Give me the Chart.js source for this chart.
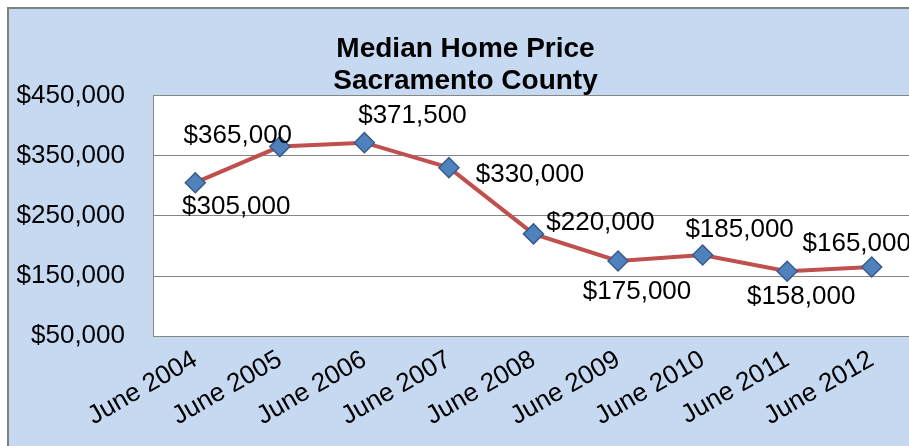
<!DOCTYPE html>
<html><head><meta charset="utf-8">
<script src="https://cdn.jsdelivr.net/npm/chart.js@4/dist/chart.umd.min.js"></script>
<style>
html,body{margin:0;padding:0;overflow:hidden;background:#fff;width:909px;height:446px;}
#frame{position:absolute;left:7px;top:7px;width:940px;height:460px;border:2px solid #808080;background:#c6d9f1;}
#wrap{position:absolute;left:0;top:0;width:930px;height:441px;}
</style></head><body>
<div id="frame"><div id="wrap"><canvas id="c"></canvas></div></div>
<script>
const categories = ["June 2004","June 2005","June 2006","June 2007","June 2008","June 2009","June 2010","June 2011","June 2012"];
const medianPrice = [305000, 365000, 371500, 330000, 220000, 175000, 185000, 158000, 165000];
const yTickValues = [50000, 150000, 250000, 350000, 450000];
const titleLines = ["Median Home Price", "Sacramento County"];

// label placement offsets (style only)
const labelOffsets = [[41,24],[-42,-11],[48,-27],[81,7],[67,-11],[19,31],[37,-25],[14,26],[-15,-23]];

const fmt = v => '$' + v.toLocaleString('en-US');
const FONT = "'Liberation Sans', Arial, sans-serif";

const plotBg = {
  id: 'plotBg',
  beforeDraw(chart) {
    const {ctx, chartArea: a} = chart;
    ctx.save(); ctx.fillStyle = '#ffffff';
    ctx.fillRect(a.left, a.top, a.right - a.left, a.bottom - a.top);
    ctx.restore();
  }
};
const valueLabels = {
  id: 'valueLabels',
  afterDatasetsDraw(chart) {
    const ctx = chart.ctx;
    const meta = chart.getDatasetMeta(0);
    ctx.save();
    ctx.font = "26px " + FONT;
    ctx.fillStyle = '#000';
    ctx.textAlign = 'center';
    ctx.textBaseline = 'middle';
    meta.data.forEach((pt, i) => {
      const o = labelOffsets[i];
      ctx.fillText(fmt(chart.data.datasets[0].data[i]), pt.x + o[0], pt.y + o[1]);
    });
    ctx.restore();
  }
};

new Chart(document.getElementById('c'), {
  type: 'line',
  data: {
    labels: categories,
    datasets: [{
      data: medianPrice,
      borderColor: '#c0504d',
      borderWidth: 4,
      pointStyle: 'rectRot',
      pointRadius: 10,
      pointHoverRadius: 10,
      pointBackgroundColor: '#4f81bd',
      pointBorderColor: '#385d8a',
      pointBorderWidth: 1.5,
      tension: 0,
      fill: false
    }]
  },
  options: {
    responsive: true,
    maintainAspectRatio: false,
    animation: false,
    devicePixelRatio: 1,
    layout: { padding: { left: 8, right: 25, top: 0, bottom: 10 } },
    plugins: {
      legend: { display: false },
      tooltip: { enabled: false },
      title: {
        display: true,
        text: titleLines,
        color: '#000',
        font: { family: FONT, size: 28, weight: 'bold', lineHeight: 1.15 },
        padding: { top: 24, bottom: -2 }
      }
    },
    scales: {
      x: {
        offset: true,
        afterFit(axis) { axis.paddingLeft = 0; axis.paddingRight = 0; },
        grid: { display: false, drawTicks: false },
        border: { display: true, color: '#868686', width: 1 },
        ticks: {
          autoSkip: false, minRotation: 30, maxRotation: 30, padding: 8,
          color: '#000', font: { family: FONT, size: 26 }
        }
      },
      y: {
        min: 50000, max: 450000,
        afterBuildTicks(axis) { axis.ticks = yTickValues.map(v => ({ value: v })); },
        afterFit(axis) { axis.width = 136; },
        grid: { color: '#868686', lineWidth: 1, drawTicks: false },
        border: { display: true, color: '#868686', width: 1 },
        ticks: {
          padding: 28, color: '#000', font: { family: FONT, size: 26 },
          callback: v => fmt(v)
        }
      }
    }
  },
  plugins: [plotBg, valueLabels]
});
</script>
</body></html>
